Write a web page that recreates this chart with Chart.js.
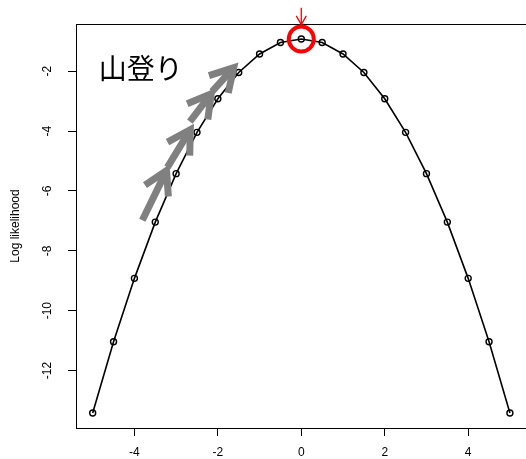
<!DOCTYPE html>
<html>
<head>
<meta charset="utf-8">
<script src="https://cdn.jsdelivr.net/npm/chart.js@4.4.0/dist/chart.umd.min.js"></script>
<style>
  body { margin: 0; background: #fff; }
  #wrap { width: 526px; height: 459px; overflow: hidden; }
</style>
</head>
<body>
<div id="wrap"><canvas id="llChart" width="532" height="459"></canvas></div>
<script>
// log likelihood of mu, evaluated every 0.5
const muValues = [-5, -4.5, -4, -3.5, -3, -2.5, -2, -1.5, -1, -0.5, 0, 0.5, 1, 1.5, 2, 2.5, 3, 3.5, 4, 4.5, 5];
const logLik = [-13.42, -11.04, -8.92, -7.04, -5.42, -4.04, -2.92, -2.04, -1.42, -1.04, -0.92,
  -1.04, -1.42, -2.04, -2.92, -4.04, -5.42, -7.04, -8.92, -11.04, -13.42];

const xTicks = [-4, -2, 0, 2, 4];
const yTicks = [-12, -10, -8, -6, -4, -2];

// hill climbing steps (data units)
const stepFromX = [-3.81, -3.21, -2.67, -2.14];
const stepFromY = [-6.98, -5.21, -3.68, -2.68];
const stepToX = [-3.23, -2.66, -2.16, -1.62];
const stepToY = [-5.32, -3.95, -2.75, -1.88];

// maximum marker
const peakX = 0;
const peakY = -0.92;
const peakArrowFromY = 0.12;
const peakArrowToY = -0.44;

const titleText = "山登り";
const titleX = -3.85;
const titleY = -1.9;

function drawArrow(ctx, x0, y0, x1, y1, len, width, color) {
  const ang = Math.atan2(y1 - y0, x1 - x0);
  const spread = Math.PI / 6;
  ctx.save();
  ctx.strokeStyle = color;
  ctx.lineWidth = width;
  ctx.lineCap = "butt";
  ctx.lineJoin = "miter";
  ctx.beginPath();
  ctx.moveTo(x0, y0);
  ctx.lineTo(x1, y1);
  ctx.stroke();
  ctx.beginPath();
  ctx.moveTo(x1 - len * Math.cos(ang - spread), y1 - len * Math.sin(ang - spread));
  ctx.lineTo(x1, y1);
  ctx.lineTo(x1 - len * Math.cos(ang + spread), y1 - len * Math.sin(ang + spread));
  ctx.stroke();
  ctx.restore();
}

const extras = {
  id: "extras",
  afterDraw(chart) {
    const ctx = chart.ctx;
    const xs = chart.scales.x;
    const ys = chart.scales.y;
    const area = chart.chartArea;

    // box
    ctx.save();
    ctx.strokeStyle = "#000";
    ctx.lineWidth = 1;
    ctx.strokeRect(area.left + 0.5, area.top + 0.5, area.right - area.left, area.bottom - area.top);

    // tick labels
    ctx.fillStyle = "#000";
    ctx.font = '12px "Liberation Sans", Arial, sans-serif';
    ctx.textAlign = "center";
    ctx.textBaseline = "middle";
    xTicks.forEach(v => ctx.fillText(String(v), xs.getPixelForValue(v), 453));
    yTicks.forEach(v => {
      ctx.save();
      ctx.translate(48, ys.getPixelForValue(v));
      ctx.rotate(-Math.PI / 2);
      ctx.fillText(String(v), 0, 0);
      ctx.restore();
    });
    ctx.save();
    ctx.translate(16, (area.top + area.bottom) / 2);
    ctx.rotate(-Math.PI / 2);
    ctx.fillText("Log likelihood", 0, 0);
    ctx.restore();

    // title text
    ctx.font = '28px "Noto Sans CJK JP", sans-serif';
    ctx.fillText(titleText, xs.getPixelForValue(titleX), ys.getPixelForValue(titleY));
    ctx.restore();

    // climbing arrows
    for (let i = 0; i < stepFromX.length; i++) {
      drawArrow(ctx,
        xs.getPixelForValue(stepFromX[i]), ys.getPixelForValue(stepFromY[i]),
        xs.getPixelForValue(stepToX[i]), ys.getPixelForValue(stepToY[i]),
        26, 7, "#808080");
    }

    // peak circle and arrow
    const px = xs.getPixelForValue(peakX);
    ctx.save();
    ctx.strokeStyle = "#ff0000";
    ctx.lineWidth = 4;
    ctx.beginPath();
    ctx.arc(px, ys.getPixelForValue(peakY), 12.5, 0, Math.PI * 2);
    ctx.stroke();
    ctx.restore();
    drawArrow(ctx, px, ys.getPixelForValue(peakArrowFromY), px, ys.getPixelForValue(peakArrowToY),
      10, 1.3, "#ff0000");
  }
};

const ctx = document.getElementById("llChart").getContext("2d");
new Chart(ctx, {
  type: "line",
  data: {
    datasets: [{
      data: muValues.map((m, i) => ({ x: m, y: logLik[i] })),
      borderColor: "#000",
      borderWidth: 1.6,
      tension: 0,
      pointRadius: 3,
      pointBorderWidth: 1.4,
      pointBorderColor: "#000",
      pointBackgroundColor: "rgba(0,0,0,0)",
      clip: false,
    }],
  },
  options: {
    responsive: false,
    animation: false,
    layout: { padding: { top: 24, right: 4, left: 0, bottom: 0 } },
    plugins: { legend: { display: false }, tooltip: { enabled: false } },
    scales: {
      x: {
        type: "linear",
        min: -5.4,
        max: 5.4,
        afterBuildTicks: (s) => { s.ticks = xTicks.map(v => ({ value: v })); },
        afterFit: (s) => { s.height = 31; },
        ticks: { display: false },
        grid: { drawOnChartArea: false, tickLength: 8, color: "#000" },
        border: { display: false },
      },
      y: {
        type: "linear",
        min: -13.92,
        max: -0.42,
        afterBuildTicks: (s) => { s.ticks = yTicks.map(v => ({ value: v })); },
        afterFit: (s) => { s.width = 76; },
        ticks: { display: false },
        grid: { drawOnChartArea: false, tickLength: 8, color: "#000" },
        border: { display: false },
      },
    },
  },
  plugins: [extras],
});
</script>
</body>
</html>
